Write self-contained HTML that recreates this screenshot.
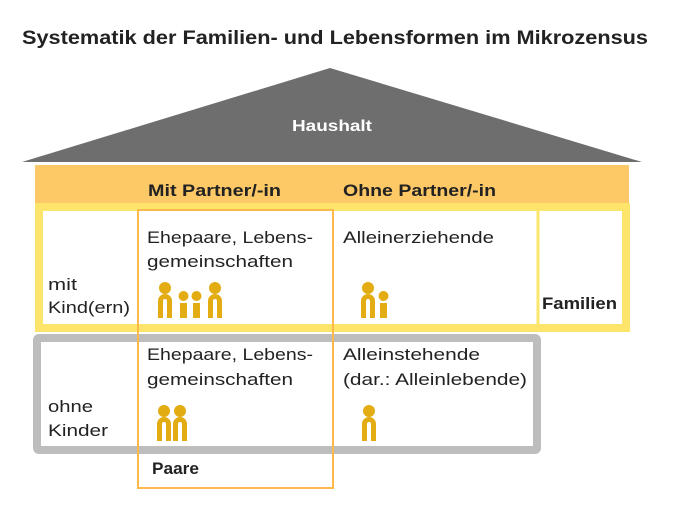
<!DOCTYPE html>
<html><head><meta charset="utf-8"><style>
body{margin:0;background:#fff;}
svg text{font-family:"Liberation Sans",sans-serif;fill:#222;}
</style></head><body>
<svg width="675" height="500" xmlns="http://www.w3.org/2000/svg">
<defs>
<g id="ad"><circle cx="7" cy="-30" r="6" fill="#e3ac13"/><path d="M2.5,0 V-17 A4.5,4.5 0 0 1 11.5,-17 V0" fill="none" stroke="#e3ac13" stroke-width="5"/></g>
<g id="ch"><circle cx="3.5" cy="-22" r="5" fill="#e3ac13"/><rect x="0" y="-15" width="7" height="15" fill="#e3ac13"/></g>
</defs>
<text x="22" y="44" font-size="19" font-weight="bold" textLength="626" lengthAdjust="spacingAndGlyphs">Systematik der Familien- und Lebensformen im Mikrozensus</text>
<polygon points="22,162 330,68 642,162" fill="#6e6e6e"/>
<text x="292" y="131" font-size="16" font-weight="bold" style="fill:#fff" textLength="80" lengthAdjust="spacingAndGlyphs">Haushalt</text>
<rect x="35" y="165" width="594" height="39" fill="#fdc966"/>
<rect x="39" y="207" width="587" height="121" fill="#fff" stroke="#fde46a" stroke-width="8"/>
<line x1="538" y1="209" x2="538" y2="326" stroke="#fde46a" stroke-width="3"/>
<rect x="37" y="338" width="500" height="112" fill="#fff" stroke="#bdbdbd" stroke-width="8" rx="2"/>
<rect x="138" y="210" width="195" height="278" fill="none" stroke="#fdb94a" stroke-width="2"/>
<g font-size="17" lengthAdjust="spacingAndGlyphs">
<text x="148" y="196" font-weight="bold" textLength="133" lengthAdjust="spacingAndGlyphs">Mit Partner/-in</text>
<text x="343" y="196" font-weight="bold" textLength="153" lengthAdjust="spacingAndGlyphs">Ohne Partner/-in</text>
<text x="147" y="243" textLength="166" lengthAdjust="spacingAndGlyphs">Ehepaare, Lebens-</text>
<text x="147" y="267" textLength="146" lengthAdjust="spacingAndGlyphs">gemeinschaften</text>
<text x="343" y="243" textLength="151" lengthAdjust="spacingAndGlyphs">Alleinerziehende</text>
<text x="48" y="290" textLength="29" lengthAdjust="spacingAndGlyphs">mit</text>
<text x="48" y="313" textLength="82" lengthAdjust="spacingAndGlyphs">Kind(ern)</text>
<text x="147" y="360" textLength="166" lengthAdjust="spacingAndGlyphs">Ehepaare, Lebens-</text>
<text x="147" y="385" textLength="146" lengthAdjust="spacingAndGlyphs">gemeinschaften</text>
<text x="343" y="360" textLength="137" lengthAdjust="spacingAndGlyphs">Alleinstehende</text>
<text x="343" y="385" textLength="184" lengthAdjust="spacingAndGlyphs">(dar.: Alleinlebende)</text>
<text x="48" y="412" textLength="45" lengthAdjust="spacingAndGlyphs">ohne</text>
<text x="48" y="436" textLength="60" lengthAdjust="spacingAndGlyphs">Kinder</text>
<text x="542" y="309" font-weight="bold" textLength="75" lengthAdjust="spacingAndGlyphs">Familien</text>
<text x="152" y="474" font-weight="bold" textLength="47" lengthAdjust="spacingAndGlyphs">Paare</text>
</g>
<use href="#ad" x="158" y="318"/>
<use href="#ch" x="180" y="318"/>
<use href="#ch" x="193" y="318"/>
<use href="#ad" x="208" y="318"/>
<use href="#ad" x="361" y="318"/>
<use href="#ch" x="380" y="318"/>
<use href="#ad" x="157" y="441"/>
<use href="#ad" x="173" y="441"/>
<use href="#ad" x="362" y="441"/>
</svg>
</body></html>
